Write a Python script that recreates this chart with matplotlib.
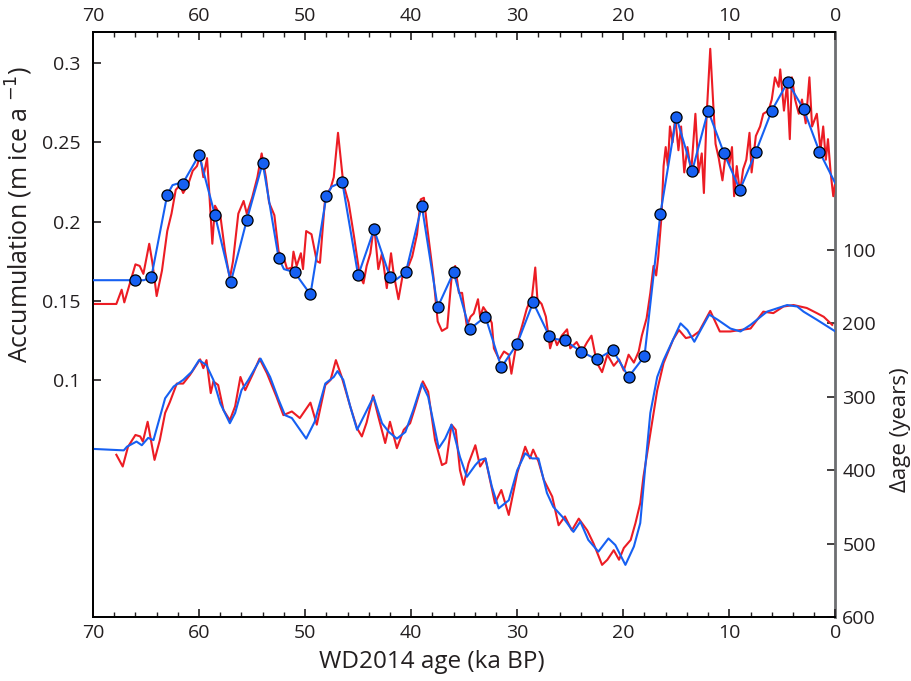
import matplotlib
matplotlib.use("Agg")
import matplotlib.pyplot as plt
from matplotlib.ticker import MultipleLocator

plt.rcParams['font.family'] = ['Open Sans', 'DejaVu Sans']

# accumulation, red (noisy record)
acc_age = [70.0, 67.8, 67.3, 67.05, 66.0, 65.6, 65.25, 64.7, 64.4, 64.0, 63.5, 63.0, 62.6, 62.2,
           61.8, 61.5, 61.0, 60.6, 60.2, 59.9, 59.6, 59.25, 59.1, 58.75, 58.5, 58.0, 57.55, 57.1,
           56.8, 56.3, 55.8, 55.5, 55.0, 54.5, 54.1, 53.7, 53.4, 52.9, 52.5, 52.0, 51.7, 51.25,
           51.1, 50.8, 50.4, 50.2, 49.9, 49.4, 48.9, 48.6, 48.1, 47.6, 47.3, 46.9, 46.7, 46.4,
           45.9, 45.4, 44.85, 44.5, 44.2, 43.85, 43.5, 43.1, 42.75, 42.3, 41.9, 41.65, 41.2, 40.7,
           40.25, 39.9, 39.45, 39.1, 38.8, 38.5, 37.9, 37.5, 37.1, 36.6, 36.2, 35.85, 35.5, 35.2,
           34.75, 34.4, 34.1, 33.7, 33.5, 33.2, 32.8, 32.4, 32.2, 31.7, 31.25, 30.8, 30.55, 30.2,
           29.9, 29.55, 29.1, 28.6, 28.3, 28.1, 27.7, 27.3, 26.9, 26.55, 26.25, 25.8, 25.3, 25.0,
           24.4, 23.9, 23.4, 23.0, 22.5, 22.0, 21.5, 20.9, 20.4, 19.95, 19.5, 19.0, 18.55, 18.25,
           17.8, 17.45, 17.15, 16.9, 16.7, 16.4, 16.2, 16.0, 15.8, 15.6, 15.35, 15.1, 14.8, 14.55,
           14.25, 13.95, 13.6, 13.2, 12.9, 12.6, 12.4, 12.15, 11.8, 11.5, 11.3, 11.0, 10.65, 10.3,
           10.0, 9.75, 9.55, 9.3, 9.0, 8.7, 8.4, 8.1, 7.9, 7.5, 7.1, 6.8, 6.3, 6.0, 5.7, 5.35, 5.2,
           4.85, 4.55, 4.3, 4.1, 3.8, 3.45, 3.15, 2.8, 2.45, 2.2, 1.75, 1.4, 1.15, 0.9, 0.7, 0.45,
           0.2, 0.05]
acc_red = [0.148, 0.148, 0.157, 0.149, 0.173, 0.172, 0.167, 0.186, 0.174, 0.153, 0.169, 0.194, 0.205, 0.220,
           0.223, 0.218, 0.224, 0.232, 0.235, 0.242, 0.228, 0.240, 0.225, 0.186, 0.210, 0.204, 0.181, 0.164,
           0.175, 0.205, 0.213, 0.205, 0.215, 0.228, 0.243, 0.228, 0.212, 0.204, 0.181, 0.177, 0.170, 0.171,
           0.181, 0.172, 0.180, 0.170, 0.194, 0.192, 0.175, 0.174, 0.216, 0.221, 0.228, 0.256, 0.243, 0.224,
           0.212, 0.191, 0.166, 0.161, 0.172, 0.180, 0.198, 0.170, 0.180, 0.158, 0.180, 0.167, 0.151, 0.170,
           0.172, 0.178, 0.192, 0.214, 0.215, 0.197, 0.165, 0.137, 0.131, 0.133, 0.164, 0.172, 0.155, 0.155,
           0.134, 0.140, 0.142, 0.151, 0.140, 0.146, 0.142, 0.136, 0.120, 0.113, 0.118, 0.116, 0.104, 0.118,
           0.126, 0.134, 0.145, 0.153, 0.171, 0.151, 0.148, 0.140, 0.120, 0.128, 0.122, 0.128, 0.132, 0.120,
           0.124, 0.118, 0.124, 0.128, 0.111, 0.105, 0.116, 0.109, 0.113, 0.106, 0.116, 0.111, 0.118, 0.128,
           0.139, 0.155, 0.172, 0.166, 0.178, 0.203, 0.235, 0.247, 0.235, 0.260, 0.250, 0.266, 0.245, 0.260,
           0.231, 0.247, 0.231, 0.268, 0.231, 0.243, 0.218, 0.266, 0.309, 0.272, 0.249, 0.240, 0.226, 0.245,
           0.236, 0.247, 0.216, 0.235, 0.218, 0.233, 0.239, 0.256, 0.231, 0.254, 0.260, 0.268, 0.270, 0.277,
           0.291, 0.285, 0.296, 0.270, 0.287, 0.252, 0.291, 0.277, 0.268, 0.277, 0.262, 0.291, 0.260, 0.268,
           0.245, 0.260, 0.239, 0.252, 0.231, 0.216, 0.223]

# accumulation, blue fit line
fit_age = [70.0, 66.0, 65.2, 64.5, 63.0, 62.5, 62.0, 61.5, 60.0, 58.5, 57.0, 55.5, 54.0, 52.5, 52.0,
           51.5, 51.0, 49.5, 48.0, 47.5, 46.5, 45.0, 43.5, 42.0, 41.5, 40.5, 39.0, 37.5, 36.0, 34.5,
           33.0, 31.5, 30.0, 28.5, 27.0, 26.5, 25.5, 24.0, 22.5, 21.0, 19.5, 18.0, 16.5, 15.0, 13.5,
           12.0, 10.5, 9.0, 7.5, 6.0, 4.5, 3.0, 1.5, 0.0]
fit_acc = [0.163, 0.163, 0.163, 0.165, 0.217, 0.223, 0.224, 0.2245, 0.242, 0.204, 0.162, 0.201, 0.237, 0.177, 0.170,
           0.169, 0.168, 0.154, 0.216, 0.222, 0.225, 0.166, 0.195, 0.165, 0.163, 0.168, 0.210, 0.146, 0.168, 0.132,
           0.140, 0.108, 0.123, 0.149, 0.128, 0.126, 0.125, 0.118, 0.113, 0.119, 0.102, 0.115, 0.205, 0.266, 0.232,
           0.270, 0.243, 0.220, 0.244, 0.270, 0.288, 0.271, 0.244, 0.224]

# accumulation nodes (blue dots)
node_age = [66.0, 64.5, 63.0, 61.5, 60.0, 58.5, 57.0, 55.5, 54.0, 52.5, 51.0, 49.5, 48.0, 46.5, 45.0,
            43.5, 42.0, 40.5, 39.0, 37.5, 36.0, 34.5, 33.0, 31.5, 30.0, 28.5, 27.0, 25.5, 24.0, 22.5,
            21.0, 19.5, 18.0, 16.5, 15.0, 13.5, 12.0, 10.5, 9.0, 7.5, 6.0, 4.5, 3.0, 1.5]
node_acc = [0.163, 0.165, 0.217, 0.224, 0.242, 0.204, 0.162, 0.201, 0.237, 0.177, 0.168, 0.154, 0.216, 0.225, 0.166,
            0.195, 0.165, 0.168, 0.210, 0.146, 0.168, 0.132, 0.140, 0.108, 0.123, 0.149, 0.128, 0.125, 0.118, 0.113,
            0.119, 0.102, 0.115, 0.205, 0.266, 0.232, 0.270, 0.243, 0.220, 0.244, 0.270, 0.288, 0.271, 0.244]

# delta age, red
dage_age_red = [67.8, 67.2, 66.7, 66.0, 65.55, 65.3, 64.85, 64.2, 63.7, 63.2, 62.75, 62.1, 61.5, 60.85,
                59.9, 59.6, 59.3, 58.9, 58.65, 58.2, 57.7, 57.1, 56.6, 56.1, 55.65, 54.9, 54.3, 53.6,
                52.7, 52.05, 51.25, 50.5, 49.5, 48.9, 48.1, 47.6, 47.1, 46.55, 45.75, 45.1, 44.65, 44.2,
                43.6, 43.1, 42.45, 42.0, 41.35, 40.7, 40.1, 39.6, 38.9, 38.4, 37.75, 37.1, 36.7, 36.2,
                35.8, 35.4, 35.05, 34.6, 33.95, 33.5, 33.0, 32.1, 31.5, 30.8, 30.0, 29.25, 28.8, 28.5,
                28.0, 27.5, 26.7, 26.1, 25.5, 24.85, 24.2, 23.4, 22.8, 22.0, 21.5, 20.9, 20.4, 19.95,
                19.3, 18.85, 18.4, 18.1, 17.45, 16.8, 16.2, 15.3, 14.75, 14.1, 13.5, 12.85, 11.8, 10.9,
                9.9, 8.95, 8.0, 6.8, 5.85, 4.9, 3.95, 2.7, 1.75, 1.1, 0.3]
dage_red = [379, 395, 368, 352, 354, 361, 334, 386, 359, 322, 307, 282, 282, 270,
            249, 261, 250, 295, 279, 284, 318, 332, 313, 273, 291, 268, 248, 268,
            300, 325, 320, 329, 308, 338, 284, 277, 250, 273, 313, 343, 354, 335,
            298, 327, 363, 334, 370, 345, 336, 313, 279, 293, 359, 393, 390, 338,
            345, 400, 420, 391, 366, 395, 384, 445, 427, 461, 404, 368, 384, 372,
            388, 413, 436, 475, 463, 482, 466, 482, 500, 529, 522, 509, 522, 506,
            495, 472, 445, 409, 350, 291, 254, 222, 209, 220, 218, 211, 183, 211,
            211, 209, 207, 184, 186, 177, 175, 179, 186, 191, 202]

# delta age, blue
dage_age_blue = [70.0, 67.1, 66.8, 65.9, 65.4, 64.8, 64.3, 63.2, 62.4, 61.5, 60.7, 60.0, 59.3, 58.65,
                 58.0, 57.1, 56.6, 56.0, 55.35, 54.2, 53.3, 52.5, 51.9, 51.25, 49.9, 49.1, 48.1, 47.3,
                 46.95, 46.4, 45.75, 45.1, 43.55, 42.75, 42.1, 41.35, 40.55, 39.8, 39.0, 38.4, 37.4,
                 36.8, 36.2, 35.4, 34.75, 33.95, 33.5, 33.0, 32.4, 31.75, 30.8, 30.0, 29.25, 28.6, 28.0,
                 27.2, 26.6, 25.65, 24.7, 24.05, 23.3, 22.35, 21.4, 20.75, 19.8, 19.0, 18.4, 17.9, 17.45,
                 16.8, 16.2, 15.4, 14.6, 13.95, 13.3, 12.7, 11.9, 11.1, 9.9, 8.95, 8.0, 6.45, 4.55, 3.6,
                 3.0, 1.75, 0.0]
dage_blue = [371, 373, 368, 361, 366, 356, 359, 302, 286, 277, 266, 250, 257, 277,
             309, 336, 322, 291, 277, 248, 273, 304, 325, 329, 357, 334, 282, 273,
             265, 277, 313, 345, 300, 336, 348, 357, 348, 318, 282, 300, 370,
             357, 338, 382, 409, 393, 386, 384, 422, 452, 441, 400, 377, 384, 384,
             431, 450, 465, 484, 470, 495, 511, 493, 502, 529, 504, 472, 391, 322,
             273, 250, 225, 200, 209, 225, 209, 188, 195, 207, 211, 202, 184, 175, 177,
             184, 195, 211]

acc_ticks = [0.1, 0.15, 0.2, 0.25, 0.3]
acc_labels = ['0.1', '0.15', '0.2', '0.25', '0.3']
dage_ticks = [100, 200, 300, 400, 500, 600]

red = '#ec1c24'
blue = '#1660f2'
txt = '#231f20'

fig = plt.figure(figsize=(9.12, 6.81), dpi=100)
ax = fig.add_axes([0.102, 0.094, 0.814, 0.859])
ax2 = ax.twinx()

ax2.plot(dage_age_red, dage_red, color=red, lw=1.5, zorder=2)
ax2.plot(dage_age_blue, dage_blue, color=blue, lw=1.5, zorder=3)
ax2.set_ylim(600, -197)

ax.set_zorder(ax2.get_zorder() + 1)
ax.patch.set_visible(False)
ax.plot(acc_age, acc_red, color=red, lw=1.5, zorder=2)
ax.plot(fit_age, fit_acc, color=blue, lw=1.5, zorder=3)
ax.plot(node_age, node_acc, 'o', ms=8, mfc=blue, mec='black', mew=0.9, zorder=4)

ax.set_xlim(70, 0)
ax.set_ylim(-0.0495, 0.3196)
ax.xaxis.set_major_locator(MultipleLocator(10))
ax.xaxis.set_minor_locator(MultipleLocator(2))
ax.set_yticks(acc_ticks)
ax.set_yticklabels(acc_labels)
ax2.set_yticks(dage_ticks)

for a in (ax, ax2):
    for s in a.spines.values():
        s.set_linewidth(1.3)
        s.set_color('black')
ax.spines['right'].set_visible(False)
ax2.spines['right'].set_color('#6d6e71')
ax2.spines['right'].set_linewidth(2.0)

ax.tick_params(axis='x', which='both', top=True, labeltop=True, direction='in',
               labelsize=14, colors=txt, pad=5)
ax.tick_params(axis='x', which='major', length=6, width=1.2)
ax.tick_params(axis='x', which='minor', length=3.5, width=1.0)
ax.tick_params(axis='y', direction='in', length=6, width=1.2, labelsize=14, colors=txt, pad=9)
ax2.tick_params(axis='y', direction='in', length=6, width=1.2, labelsize=14, colors=txt, pad=5)

ax.set_xlabel('WD2014 age (ka BP)', fontsize=17.5, color=txt)
ax.xaxis.set_label_coords(0.456, -0.056)
ax.set_ylabel('Accumulation (m ice a $^{-1}$)', fontsize=18, color=txt)
ax.yaxis.set_label_coords(-0.078, 0.688)
ax2.set_ylabel('\u0394age (years)', fontsize=16, color=txt, rotation=90)
ax2.yaxis.set_label_coords(1.073, 0.32)

fig.savefig('out.png', dpi=100)
